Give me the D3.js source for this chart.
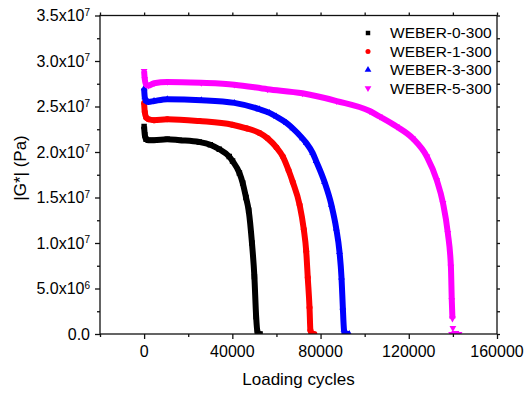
<!DOCTYPE html>
<html>
<head>
<meta charset="utf-8">
<script src="https://cdn.jsdelivr.net/npm/d3@7"></script>
<style>
  body { margin: 0; background: #fff; }
  svg { display: block; }
  text { font-family: Arial, "Liberation Sans", sans-serif; fill: #000; }
</style>
</head>
<body>
<svg id="chart" width="526" height="398"></svg>
<script>
// Values, |G*| in Pa
const seriesNames = ["WEBER-0-300", "WEBER-1-300", "WEBER-3-300", "WEBER-5-300"];
const seriesColors = ["#000000", "#ff0000", "#0000ff", "#ff00ff"];

const cycles0 = [0, 300, 900, 2000, 4500, 10500, 16000, 25000, 30000, 34100, 38600, 40100, 43200, 44700, 46200, 47400, 48900, 50000, 50800, 51400, 52000, 52600];
const modulus0 = [2.28e7, 2.19e7, 2.14e7, 2.13e7, 2.13e7, 2.14e7, 2.13e7, 2.11e7, 2.08e7, 2.03e7, 1.95e7, 1.90e7, 1.77e7, 1.66e7, 1.50e7, 1.36e7, 1.00e7, 0.63e7, 0.19e7, 0.02e7, 0, 0];

const cycles1 = [0, 300, 900, 2000, 4500, 10500, 25000, 40000, 46400, 52300, 56000, 60000, 62900, 65500, 67400, 70500, 72400, 73500, 74200, 75000, 75400, 76200, 77200];
const modulus1 = [2.54e7, 2.44e7, 2.38e7, 2.36e7, 2.35e7, 2.36e7, 2.34e7, 2.30e7, 2.26e7, 2.21e7, 2.15e7, 2.05e7, 1.95e7, 1.80e7, 1.67e7, 1.42e7, 1.15e7, 0.91e7, 0.62e7, 0.29e7, 0.04e7, 0, 0];

const cycles3 = [0, 300, 900, 2000, 4500, 10500, 25900, 40900, 52300, 56800, 59900, 64500, 67400, 71800, 73500, 76400, 78000, 81800, 84900, 87100, 88600, 89500, 90100, 90600, 91000, 92000, 93000];
const modulus3 = [2.70e7, 2.60e7, 2.56e7, 2.55e7, 2.56e7, 2.58e7, 2.57e7, 2.54e7, 2.47e7, 2.43e7, 2.39e7, 2.32e7, 2.26e7, 2.15e7, 2.10e7, 1.99e7, 1.90e7, 1.67e7, 1.42e7, 1.16e7, 0.90e7, 0.62e7, 0.29e7, 0.05e7, 0, 0, 0];

// null = gap in the trace (isolated points near the end)
const cycles5 = [0, 300, 900, 2000, 4500, 10500, 25900, 40900, 56000, 71800, 87300, 102300, 106800, 114500, 121800, 128200, 132700, 135500, 137700, 139100, 139500, 139800, null, 140000, null, 139400, 140300, 141500, 142800];
const modulus5 = [2.89e7, 2.80e7, 2.74e7, 2.73e7, 2.755e7, 2.77e7, 2.76e7, 2.74e7, 2.69e7, 2.645e7, 2.56e7, 2.45e7, 2.39e7, 2.28e7, 2.15e7, 1.95e7, 1.69e7, 1.44e7, 1.11e7, 0.74e7, 0.37e7, 0.17e7, null, 0.065e7, null, 0, 0, 0, 0];

const xTicks = [0, 40000, 80000, 120000, 160000];
const xMinorTicks = [-20000, 20000, 60000, 100000, 140000];
const yTicks = [0, 5e6, 1e7, 1.5e7, 2e7, 2.5e7, 3e7, 3.5e7];
const yMinorTicks = [2.5e6, 7.5e6, 1.25e7, 1.75e7, 2.25e7, 2.75e7, 3.25e7];

const allCycles = [cycles0, cycles1, cycles3, cycles5];
const allModulus = [modulus0, modulus1, modulus3, modulus5];
const symbols = [d3.symbolSquare, d3.symbolCircle, d3.symbolTriangle, d3.symbolTriangle];
const symbolSizes = [30, 28, 20, 20];
const symbolRotate = [0, 0, 0, 180];

const svg = d3.select("#chart");
const plotLeft = 100, plotRight = 497, plotTop = 15.5, plotBottom = 334;

const x = d3.scaleLinear().domain([-20000, 160000]).range([plotLeft, plotRight]);
const y = d3.scaleLinear().domain([0, 3.5e7]).range([plotBottom, plotTop]);

// clip to the plot frame
svg.append("clipPath").attr("id", "plotClip")
  .append("rect")
  .attr("x", plotLeft).attr("y", plotTop)
  .attr("width", plotRight - plotLeft).attr("height", plotBottom - plotTop);

const plot = svg.append("g").attr("clip-path", "url(#plotClip)");

const line = d3.line()
  .defined((d) => d.c !== null && d.g !== null)
  .x((d) => x(d.c))
  .y((d) => y(d.g))
  .curve(d3.curveMonotoneX);

allCycles.forEach((cyc, i) => {
  const pts = cyc.map((c, j) => ({ c: c, g: allModulus[i][j] }));
  plot.append("path")
    .datum(pts)
    .attr("d", line)
    .attr("fill", "none")
    .attr("stroke", seriesColors[i])
    .attr("stroke-width", 6)
    .attr("stroke-linejoin", "round");

  plot.selectAll(".pt" + i)
    .data(pts.filter((d) => d.c !== null && d.g !== null))
    .join("path")
    .attr("class", "pt" + i)
    .attr("d", d3.symbol(symbols[i], symbolSizes[i]))
    .attr("transform", (d) => `translate(${x(d.c)},${y(d.g)}) rotate(${symbolRotate[i]})`)
    .attr("fill", seriesColors[i]);
});

// AXES
const axisColor = "#111";
function styleAxis(g) {
  g.select(".domain").remove();
  g.selectAll(".tick line").attr("stroke", axisColor).attr("stroke-width", 1.3);
  g.selectAll(".tick text").remove();
}

// left
svg.append("g").attr("transform", `translate(${plotLeft},0)`)
  .call(d3.axisLeft(y).tickValues(yTicks).tickSize(5).tickSizeOuter(0)).call(styleAxis);
svg.append("g").attr("transform", `translate(${plotLeft},0)`)
  .call(d3.axisLeft(y).tickValues(yMinorTicks).tickSize(3).tickSizeOuter(0)).call(styleAxis);
// right
svg.append("g").attr("transform", `translate(${plotRight},0)`)
  .call(d3.axisRight(y).tickValues(yTicks.concat(yMinorTicks)).tickSize(3).tickSizeOuter(0)).call(styleAxis);
// bottom
svg.append("g").attr("transform", `translate(0,${plotBottom})`)
  .call(d3.axisBottom(x).tickValues(xTicks).tickSize(5).tickSizeOuter(0)).call(styleAxis);
svg.append("g").attr("transform", `translate(0,${plotBottom})`)
  .call(d3.axisBottom(x).tickValues(xMinorTicks).tickSize(3).tickSizeOuter(0)).call(styleAxis);
// top
svg.append("g").attr("transform", `translate(0,${plotTop})`)
  .call(d3.axisTop(x).tickValues(xTicks.concat(xMinorTicks)).tickSize(3).tickSizeOuter(0)).call(styleAxis);

// frame
svg.append("rect")
  .attr("x", plotLeft).attr("y", plotTop)
  .attr("width", plotRight - plotLeft).attr("height", plotBottom - plotTop)
  .attr("fill", "none").attr("stroke", axisColor).attr("stroke-width", 1.3);

// y tick labels with superscript exponent
const yLabels = svg.selectAll(".ylab")
  .data(yTicks)
  .join("text")
  .attr("class", "ylab")
  .attr("x", plotLeft - 10)
  .attr("y", (d) => y(d))
  .attr("dy", "0.35em")
  .attr("text-anchor", "end")
  .attr("font-size", 16);

yLabels.each(function (d) {
  const t = d3.select(this);
  if (d === 0) { t.text("0.0"); return; }
  const e = Math.floor(Math.log10(d));
  const m = (d / Math.pow(10, e)).toFixed(1);
  t.append("tspan").text(m + "x10");
  t.append("tspan").attr("font-size", 10).attr("dy", "-0.55em").text(e);
});

// x tick labels
svg.selectAll(".xlab")
  .data(xTicks)
  .join("text")
  .attr("class", "xlab")
  .attr("x", (d) => x(d))
  .attr("y", plotBottom + 23)
  .attr("text-anchor", "middle")
  .attr("font-size", 16)
  .text((d) => d);

// axis titles
svg.append("text")
  .attr("x", (plotLeft + plotRight) / 2)
  .attr("y", 385)
  .attr("text-anchor", "middle")
  .attr("font-size", 17)
  .text("Loading cycles");

svg.append("text")
  .attr("transform", "translate(26,168) rotate(-90)")
  .attr("text-anchor", "middle")
  .attr("font-size", 17)
  .text("|G*| (Pa)");

// legend
const legend = svg.append("g");
seriesNames.forEach((name, i) => {
  const ly = 33 + i * 18.4;
  legend.append("path")
    .attr("d", d3.symbol(symbols[i], 20))
    .attr("transform", `translate(368,${ly}) rotate(${symbolRotate[i]})`)
    .attr("fill", seriesColors[i]);
  legend.append("text")
    .attr("x", 390)
    .attr("y", ly)
    .attr("dy", "0.35em")
    .attr("font-size", 15.5)
    .text(name);
});
</script>
</body>
</html>
